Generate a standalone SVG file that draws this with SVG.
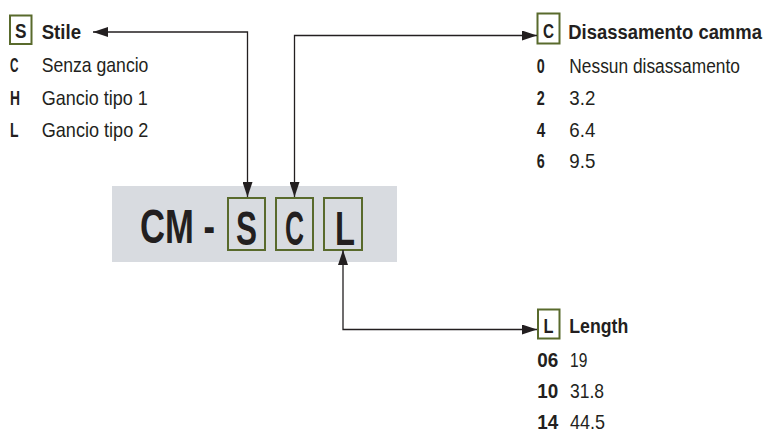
<svg xmlns="http://www.w3.org/2000/svg" width="766" height="432" viewBox="0 0 766 432">
<defs>
<style>
.t{font-family:"Liberation Sans",Arial,sans-serif;font-size:21px;fill:#231f20}
.b{font-weight:bold}
.big{font-family:"Liberation Sans",Arial,sans-serif;font-size:49px;font-weight:bold;fill:#231f20}
.box{fill:none;stroke:#596a2c;stroke-width:2}
.con{fill:none;stroke:#231f20;stroke-width:1.3;marker-start:url(#ah);marker-end:url(#ah)}
</style>
<marker id="ah" viewBox="0 0 15 10" refX="15" refY="5" markerWidth="15" markerHeight="10" markerUnits="userSpaceOnUse" orient="auto-start-reverse">
<path d="M0,0 L15,5 L0,10 z" fill="#231f20"/>
</marker>
</defs>
<g id="code">
<rect x="112" y="186" width="285" height="76" fill="#d8dbe0"/>
<text class="big" transform="translate(140,243) scale(0.707,1)" x="0" y="0">CM -</text>
<rect class="box" x="228" y="198" width="37" height="52"/>
<text class="big" x="246.5" y="245" text-anchor="middle" textLength="21" lengthAdjust="spacingAndGlyphs">S</text>
<rect class="box" x="276" y="198" width="37" height="52"/>
<text class="big" x="294.5" y="245" text-anchor="middle" textLength="19" lengthAdjust="spacingAndGlyphs">C</text>
<rect class="box" x="324" y="198" width="38" height="52"/>
<text class="big" x="345" y="245" text-anchor="middle" textLength="20" lengthAdjust="spacingAndGlyphs">L</text>
</g>
<g id="stile">
<rect class="box" x="10" y="15.5" width="21.5" height="28.5"/>
<text class="t b" x="15" y="38" font-size="23" textLength="11.5" lengthAdjust="spacingAndGlyphs">S</text>
<text class="t b" x="41.7" y="39" textLength="39.3" lengthAdjust="spacingAndGlyphs">Stile</text>
<text class="t b" x="10" y="72" textLength="8.5" lengthAdjust="spacingAndGlyphs">C</text>
<text class="t" x="41.7" y="72" textLength="106.7" lengthAdjust="spacingAndGlyphs">Senza gancio</text>
<text class="t b" x="10" y="105" textLength="10" lengthAdjust="spacingAndGlyphs">H</text>
<text class="t" x="41.7" y="105" textLength="106" lengthAdjust="spacingAndGlyphs">Gancio tipo 1</text>
<text class="t b" x="10" y="137" textLength="8.5" lengthAdjust="spacingAndGlyphs">L</text>
<text class="t" x="41.7" y="137" textLength="106.6" lengthAdjust="spacingAndGlyphs">Gancio tipo 2</text>
</g>
<g id="camma">
<rect class="box" x="537.5" y="13.5" width="22" height="30"/>
<text class="t b" x="543" y="37.5" font-size="23" textLength="11" lengthAdjust="spacingAndGlyphs">C</text>
<text class="t b" transform="translate(568.3,39.3) scale(0.878,1)" x="0" y="0">Disassamento camma</text>
<text class="t b" x="536.7" y="72.7" textLength="8" lengthAdjust="spacingAndGlyphs">0</text>
<text class="t" transform="translate(569.3,72.7) scale(0.826,1)" x="0" y="0">Nessun disassamento</text>
<text class="t b" x="536.7" y="105" textLength="8" lengthAdjust="spacingAndGlyphs">2</text>
<text class="t" x="569.3" y="105" textLength="26" lengthAdjust="spacingAndGlyphs">3.2</text>
<text class="t b" x="536.7" y="136.7" textLength="8.5" lengthAdjust="spacingAndGlyphs">4</text>
<text class="t" x="569.3" y="136.7" textLength="26" lengthAdjust="spacingAndGlyphs">6.4</text>
<text class="t b" x="536.7" y="168.3" textLength="8" lengthAdjust="spacingAndGlyphs">6</text>
<text class="t" x="569.3" y="168.3" textLength="26" lengthAdjust="spacingAndGlyphs">9.5</text>
</g>
<g id="length">
<rect class="box" x="538" y="309.5" width="21.5" height="29"/>
<text class="t b" x="543.5" y="333.3" font-size="23" textLength="10" lengthAdjust="spacingAndGlyphs">L</text>
<text class="t b" x="569.3" y="332.7" textLength="59" lengthAdjust="spacingAndGlyphs">Length</text>
<text class="t b" x="537.3" y="367.3" textLength="21" lengthAdjust="spacingAndGlyphs">06</text>
<text class="t" x="570" y="367.3" textLength="17.3" lengthAdjust="spacingAndGlyphs">19</text>
<text class="t b" x="537.3" y="398.3" textLength="21" lengthAdjust="spacingAndGlyphs">10</text>
<text class="t" x="570" y="398.3" textLength="34" lengthAdjust="spacingAndGlyphs">31.8</text>
<text class="t b" x="537.3" y="429.3" textLength="21" lengthAdjust="spacingAndGlyphs">14</text>
<text class="t" x="570" y="429.3" textLength="35" lengthAdjust="spacingAndGlyphs">44.5</text>
</g>
<g id="connectors">
<path class="con" d="M247.5,197 V32 H93"/>
<path class="con" d="M294.5,197 V35.5 H537"/>
<path class="con" d="M343,250 V329.5 H537"/>
</g>
</svg>
